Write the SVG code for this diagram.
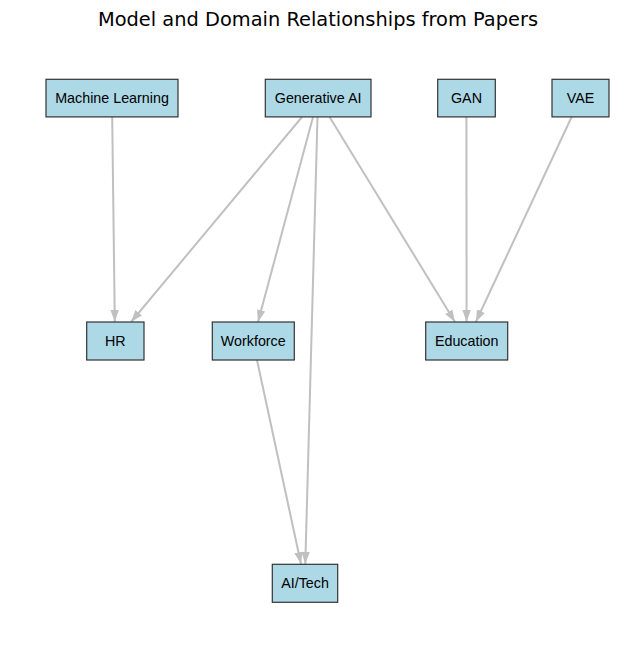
<svg xmlns="http://www.w3.org/2000/svg" width="636" height="659" viewBox="0 0 636 659">
<style>
.node rect{fill:#add8e6;stroke:#333333;stroke-width:1.2}
.node text{font-family:"Liberation Sans",Arial,sans-serif;font-size:14.3px;fill:#000;text-anchor:middle}
.edge{stroke:#c0c0c0;stroke-width:2;fill:none;marker-end:url(#arr)}
.title{font-family:"DejaVu Sans",sans-serif;font-size:19.4px;fill:#000;text-anchor:middle}
</style>
<defs>
<marker id="arr" markerUnits="userSpaceOnUse" markerWidth="12" markerHeight="10" viewBox="0 0 12 10" refX="12" refY="5" orient="auto">
<path d="M0,0.8 L12,5 L0,9.2 z" fill="#c0c0c0"/>
</marker>
</defs>
<rect width="636" height="659" fill="#ffffff"/>
<text class="title" x="318" y="26">Model and Domain Relationships from Papers</text>
<g id="edges">
<line class="edge" x1="112.2" y1="117" x2="114.8" y2="322"/>
<line class="edge" x1="302" y1="117" x2="131" y2="322"/>
<line class="edge" x1="313" y1="117" x2="258" y2="322"/>
<line class="edge" x1="317.5" y1="117" x2="305.3" y2="564"/>
<line class="edge" x1="329.6" y1="117" x2="455" y2="322"/>
<line class="edge" x1="466.4" y1="117" x2="466.6" y2="322"/>
<line class="edge" x1="571.6" y1="117" x2="475.8" y2="322"/>
<line class="edge" x1="257" y1="360" x2="301" y2="564"/>
</g>
<g id="ml" class="node"><rect x="46" y="79.3" width="132" height="37.6"/><text x="112" y="103">Machine Learning</text></g>
<g id="genai" class="node"><rect x="265.3" y="79.3" width="105.7" height="37.6"/><text x="318.1" y="103">Generative AI</text></g>
<g id="gan" class="node"><rect x="437.7" y="79.3" width="57.6" height="37.6"/><text x="466.5" y="103">GAN</text></g>
<g id="vae" class="node"><rect x="552" y="79.3" width="57" height="37.6"/><text x="580.5" y="103">VAE</text></g>
<g id="hr" class="node"><rect x="86.7" y="322" width="57.3" height="38"/><text x="115.3" y="346">HR</text></g>
<g id="workforce" class="node"><rect x="212.3" y="322" width="82" height="38"/><text x="253.3" y="346">Workforce</text></g>
<g id="education" class="node"><rect x="425.7" y="322" width="82" height="38"/><text x="466.7" y="346">Education</text></g>
<g id="aitech" class="node"><rect x="272.3" y="564.3" width="65.4" height="38"/><text x="305" y="588">AI/Tech</text></g>
</svg>
